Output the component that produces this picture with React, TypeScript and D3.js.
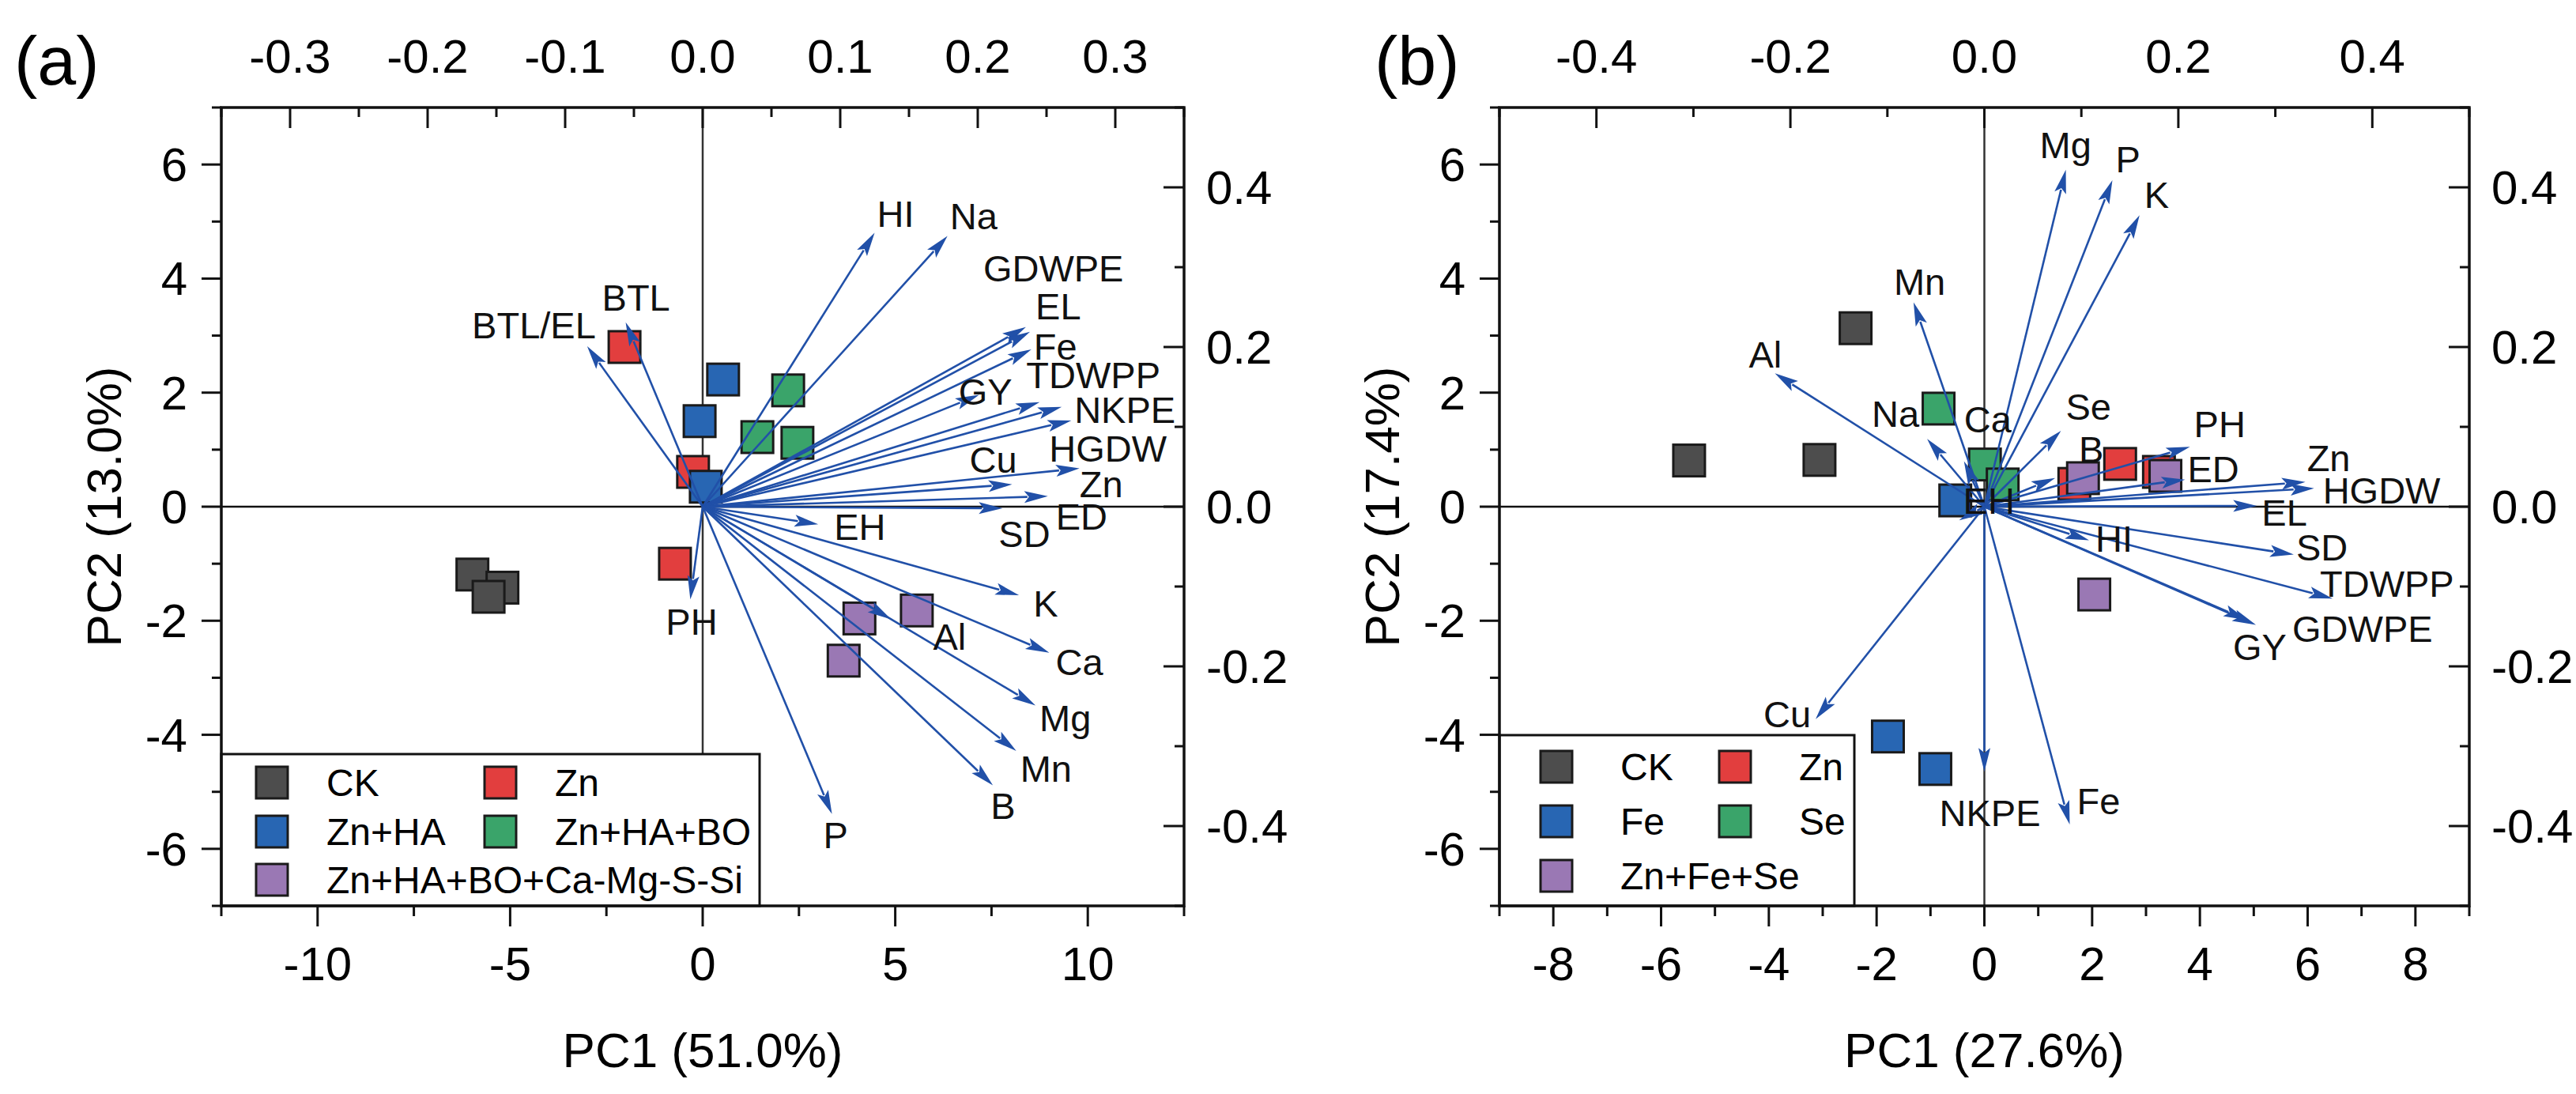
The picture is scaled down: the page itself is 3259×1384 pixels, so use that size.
import React, { useEffect, useRef } from 'react'
import * as d3 from 'd3'

// ---- data ----
const groupsA = ['CK', 'Zn', 'Zn+HA', 'Zn+HA+BO', 'Zn+HA+BO+Ca-Mg-S-Si']
const groupsB = ['CK', 'Zn', 'Fe', 'Se', 'Zn+Fe+Se']
const groupColors = ['#4d4d4d', '#e23e3e', '#2866b3', '#3aa46a', '#9a78b4']

interface Score { group: number; pc1: number; pc2: number }
interface Loading { name: string; x: number; y: number }

const scoresA: Score[] = [
  { group: 0, pc1: -5.98, pc2: -1.19 },
  { group: 0, pc1: -5.2, pc2: -1.42 },
  { group: 0, pc1: -5.56, pc2: -1.58 },
  { group: 1, pc1: -2.03, pc2: 2.8 },
  { group: 1, pc1: -0.25, pc2: 0.61 },
  { group: 1, pc1: -0.72, pc2: -1.0 },
  { group: 2, pc1: 0.53, pc2: 2.23 },
  { group: 2, pc1: -0.08, pc2: 1.5 },
  { group: 2, pc1: 0.08, pc2: 0.35 },
  { group: 3, pc1: 2.22, pc2: 2.04 },
  { group: 3, pc1: 1.42, pc2: 1.22 },
  { group: 3, pc1: 2.46, pc2: 1.12 },
  { group: 4, pc1: 4.07, pc2: -1.96 },
  { group: 4, pc1: 5.56, pc2: -1.82 },
  { group: 4, pc1: 3.66, pc2: -2.7 }
]

const loadingsA: Loading[] = [
  { name: 'HI', x: 0.125, y: 0.343 },
  { name: 'Na', x: 0.178, y: 0.339 },
  { name: 'BTL', x: -0.056, y: 0.231 },
  { name: 'BTL/EL', x: -0.084, y: 0.201 },
  { name: 'GDWPE', x: 0.235, y: 0.225 },
  { name: 'EL', x: 0.238, y: 0.219 },
  { name: 'Fe', x: 0.239, y: 0.197 },
  { name: 'GY', x: 0.201, y: 0.14 },
  { name: 'TDWPP', x: 0.245, y: 0.131 },
  { name: 'NKPE', x: 0.261, y: 0.125 },
  { name: 'HGDW', x: 0.268, y: 0.108 },
  { name: 'Cu', x: 0.225, y: 0.028 },
  { name: 'Zn', x: 0.274, y: 0.048 },
  { name: 'ED', x: 0.251, y: 0.013 },
  { name: 'SD', x: 0.218, y: -0.002 },
  { name: 'EH', x: 0.084, y: -0.022 },
  { name: 'K', x: 0.23, y: -0.111 },
  { name: 'Ca', x: 0.252, y: -0.183 },
  { name: 'Al', x: 0.137, y: -0.141 },
  { name: 'Mg', x: 0.242, y: -0.249 },
  { name: 'Mn', x: 0.228, y: -0.306 },
  { name: 'B', x: 0.211, y: -0.349 },
  { name: 'P', x: 0.094, y: -0.385 },
  { name: 'PH', x: -0.009, y: -0.116 }
]

const scoresB: Score[] = [
  { group: 0, pc1: -5.48, pc2: 0.81 },
  { group: 0, pc1: -3.06, pc2: 0.82 },
  { group: 0, pc1: -2.39, pc2: 3.13 },
  { group: 1, pc1: 2.52, pc2: 0.75 },
  { group: 1, pc1: 3.24, pc2: 0.61 },
  { group: 1, pc1: 1.67, pc2: 0.4 },
  { group: 2, pc1: -1.79, pc2: -4.03 },
  { group: 2, pc1: -0.91, pc2: -4.6 },
  { group: 2, pc1: -0.54, pc2: 0.11 },
  { group: 3, pc1: -0.85, pc2: 1.72 },
  { group: 3, pc1: 0.01, pc2: 0.74 },
  { group: 3, pc1: 0.34, pc2: 0.39 },
  { group: 4, pc1: 1.83, pc2: 0.5 },
  { group: 4, pc1: 3.36, pc2: 0.54 },
  { group: 4, pc1: 2.04, pc2: -1.54 }
]

const loadingsB: Loading[] = [
  { name: 'Mg', x: 0.084, y: 0.422 },
  { name: 'P', x: 0.132, y: 0.409 },
  { name: 'K', x: 0.16, y: 0.365 },
  { name: 'Mn', x: -0.073, y: 0.256 },
  { name: 'Al', x: -0.216, y: 0.167 },
  { name: 'Na', x: -0.059, y: 0.085 },
  { name: 'Ca', x: -0.021, y: 0.057 },
  { name: 'Se', x: 0.079, y: 0.095 },
  { name: 'B', x: 0.073, y: 0.036 },
  { name: 'PH', x: 0.212, y: 0.075 },
  { name: 'ED', x: 0.207, y: 0.034 },
  { name: 'Zn', x: 0.331, y: 0.031 },
  { name: 'HGDW', x: 0.34, y: 0.023 },
  { name: 'EL', x: 0.281, y: 0.001 },
  { name: 'SD', x: 0.319, y: -0.06 },
  { name: 'TDWPP', x: 0.359, y: -0.115 },
  { name: 'GDWPE', x: 0.28, y: -0.148 },
  { name: 'GY', x: 0.271, y: -0.142 },
  { name: 'HI', x: 0.108, y: -0.042 },
  { name: 'EH', x: -0.026, y: -0.017 },
  { name: 'Cu', x: -0.174, y: -0.266 },
  { name: 'NKPE', x: 0.0, y: -0.332 },
  { name: 'Fe', x: 0.088, y: -0.398 }
]

// label nudges (px from arrow tip)
type Nudge = [number, number, ('start' | 'end')?]
const nudgesA: Record<string, Nudge> = {
  HI: [3, -8], Na: [3, -9], BTL: [-30, -15], 'BTL/EL': [11, -10, 'end'],
  GDWPE: [-54, -58], EL: [7, -16], Fe: [3, 13], GY: [-26, 12], TDWPP: [-17, -18],
  NKPE: [16, 20], HGDW: [-28, 52], Cu: [-54, -15], Zn: [0, 36], ED: [10, 42],
  SD: [-5, 49], EH: [20, 20], K: [18, 27], Al: [53, 39], Ca: [8, 28], Mg: [5, 33],
  Mn: [5, 39], B: [-3, 43], P: [-11, 43], PH: [-31, 45]
}
const nudgesB: Record<string, Nudge> = {
  Mg: [-33, -15], P: [4, -10], K: [6, -9], Mn: [-25, -9], Al: [-33, -7],
  Na: [-70, -15], Ca: [0, -36], Se: [6, -14], B: [30, -20], PH: [5, -12],
  ED: [3, 3], Zn: [2, -14], HGDW: [11, 19], EL: [6, 25], SD: [3, 7],
  TDWPP: [-16, -2], GDWPE: [46, 22], GY: [-18, 51], HI: [8, 15], EH: [5, -8],
  Cu: [-66, 10], NKPE: [-57, 69], Fe: [9, -13]
}

const FONT = '"Liberation Sans", Arial, Helvetica, sans-serif'
const ARROW = '#2150a8'

interface PanelProps {
  tag: string
  tagX: number
  left: number
  top: number
  width: number
  height: number
  xMax: number
  xStep: number
  topMax: number
  topStep: number
  xTitle: string
  yTitle: string
  yTitleX: number
  groups: string[]
  scores: Score[]
  loadings: Loading[]
  nudges: Record<string, Nudge>
  legend: { width: number; top: number; rows: number[]; cols: number[]; textGap: number }
}

function Panel(p: PanelProps) {
  const ref = useRef<SVGGElement>(null)

  useEffect(() => {
    if (!ref.current) return
    const svg = d3.select(ref.current)
    svg.selectAll('*').remove()

    const { left, top, width, height } = p
    const x = d3.scaleLinear().domain([-p.xMax, p.xMax]).range([0, width])
    const y = d3.scaleLinear().domain([-7, 7]).range([height, 0])
    const lx = d3.scaleLinear().domain([-p.topMax, p.topMax]).range([0, width])
    const ly = d3.scaleLinear().domain([-0.5, 0.5]).range([height, 0])

    // panel tag and titles
    svg.append('text').attr('x', p.tagX).attr('y', 107)
      .attr('font-size', 88).attr('font-family', FONT).text(p.tag)
    svg.append('text').attr('x', left + width / 2).attr('y', 1350)
      .attr('text-anchor', 'middle').attr('font-size', 62).attr('font-family', FONT)
      .text(p.xTitle)
    svg.append('text')
      .attr('transform', `translate(${p.yTitleX},${top + height / 2}) rotate(-90)`)
      .attr('text-anchor', 'middle').attr('font-size', 62).attr('font-family', FONT)
      .text(p.yTitle)

    const g = svg.append('g').attr('transform', `translate(${left},${top})`)

    // zero lines
    g.append('line').attr('x1', 0).attr('x2', width).attr('y1', y(0)).attr('y2', y(0))
      .attr('stroke', '#111').attr('stroke-width', 2.5)
    g.append('line').attr('x1', x(0)).attr('x2', x(0)).attr('y1', 0).attr('y2', height)
      .attr('stroke', '#333').attr('stroke-width', 2.5)

    // score squares
    const sq = 40
    g.selectAll('rect.score').data(p.scores).join('rect')
      .attr('class', 'score')
      .attr('x', d => x(d.pc1) - sq / 2)
      .attr('y', d => y(d.pc2) - sq / 2)
      .attr('width', sq).attr('height', sq)
      .attr('fill', d => groupColors[d.group])
      .attr('stroke', '#1a1a1a').attr('stroke-width', 3)

    // loading arrows
    const headL = 30
    const headW = 15
    p.loadings.forEach(d => {
      const x0 = lx(0), y0 = ly(0)
      const tx = lx(d.x), ty = ly(d.y)
      const len = Math.hypot(tx - x0, ty - y0)
      if (len < 1) return
      const ux = (tx - x0) / len, uy = (ty - y0) / len
      const bx = tx - ux * headL, by = ty - uy * headL
      g.append('line').attr('x1', x0).attr('y1', y0).attr('x2', bx + ux * 4).attr('y2', by + uy * 4)
        .attr('stroke', ARROW).attr('stroke-width', 2.6)
      const pts = [
        [tx, ty],
        [bx - uy * headW / 2, by + ux * headW / 2],
        [bx + ux * 6, by + uy * 6],
        [bx + uy * headW / 2, by - ux * headW / 2]
      ]
      g.append('polygon').attr('points', pts.map(q => q.join(',')).join(' '))
        .attr('fill', ARROW)
    })

    // loading labels
    p.loadings.forEach(d => {
      const n = p.nudges[d.name] || [4, -6]
      g.append('text')
        .attr('x', lx(d.x) + n[0]).attr('y', ly(d.y) + n[1])
        .attr('text-anchor', n[2] || 'start')
        .attr('font-size', 47).attr('font-family', FONT).attr('fill', '#111')
        .text(d.name)
    })

    // legend
    const lg = p.legend
    g.append('rect').attr('x', 0).attr('y', lg.top).attr('width', lg.width)
      .attr('height', height - lg.top).attr('fill', '#fff')
      .attr('stroke', '#111').attr('stroke-width', 3)
    p.groups.forEach((name, i) => {
      const row = lg.rows[Math.floor(i / 2)]
      const col = lg.cols[i % 2]
      g.append('rect').attr('x', col - 20).attr('y', row - 20).attr('width', 40).attr('height', 40)
        .attr('fill', groupColors[i]).attr('stroke', '#1a1a1a').attr('stroke-width', 3)
      g.append('text').attr('x', col + lg.textGap).attr('y', row + 17)
        .attr('font-size', 48).attr('font-family', FONT).text(name)
    })

    // frame
    g.append('rect').attr('x', 0).attr('y', 0).attr('width', width).attr('height', height)
      .attr('fill', 'none').attr('stroke', '#111').attr('stroke-width', 3.5)

    // ticks
    const tick = (x1: number, y1: number, x2: number, y2: number) =>
      g.append('line').attr('x1', x1).attr('y1', y1).attr('x2', x2).attr('y2', y2)
        .attr('stroke', '#111').attr('stroke-width', 3)
    const label = (tx: number, ty: number, anchor: string, s: string, dy = '0') =>
      g.append('text').attr('x', tx).attr('y', ty).attr('dy', dy)
        .attr('text-anchor', anchor).attr('font-size', 60).attr('font-family', FONT).text(s)

    const nx = Math.round(p.xMax / p.xStep)
    d3.range(-nx, nx + 1).forEach(i => {
      const v = i * p.xStep
      const major = i % 2 === 0
      tick(x(v), height, x(v), height + (major ? 26 : 13))
      if (major) label(x(v), height + 94, 'middle', String(v))
    })
    const nt = Math.round(p.topMax / p.topStep)
    d3.range(-nt, nt + 1).forEach(i => {
      const v = i * p.topStep
      const major = i % 2 === 0
      tick(lx(v), 0, lx(v), major ? 26 : 12)
      if (major) label(lx(v), -44, 'middle', v.toFixed(1))
    })
    d3.range(-7, 8).forEach(i => {
      const major = i % 2 === 0
      tick(0, y(i), major ? -25 : -12, y(i))
      if (major) label(-43, y(i), 'end', String(i), '0.35em')
    })
    d3.range(-5, 6).forEach(i => {
      const v = i * 0.1
      const major = i % 2 === 0
      tick(width, ly(v), width - (major ? 26 : 12), ly(v))
      if (major) label(width + 28, ly(v), 'start', v.toFixed(1), '0.35em')
    })
  }, [p])

  return <g ref={ref} />
}

export default function App() {
  return (
    <svg width={3259} height={1384} style={{ position: 'absolute', left: 0, top: 0, background: '#fff' }}>
      <rect width={3259} height={1384} fill="#fff" />
      <Panel
        tag="(a)" tagX={18}
        left={280} top={136} width={1218} height={1010}
        xMax={12.5} xStep={2.5} topMax={0.35} topStep={0.05}
        xTitle="PC1 (51.0%)" yTitle="PC2 (13.0%)" yTitleX={153}
        groups={groupsA} scores={scoresA} loadings={loadingsA} nudges={nudgesA}
        legend={{ width: 681, top: 818, rows: [854, 916, 977], cols: [64, 353], textGap: 69 }}
      />
      <Panel
        tag="(b)" tagX={1739}
        left={1897} top={136} width={1227} height={1010}
        xMax={9} xStep={1} topMax={0.5} topStep={0.1}
        xTitle="PC1 (27.6%)" yTitle="PC2 (17.4%)" yTitleX={1770}
        groups={groupsB} scores={scoresB} loadings={loadingsB} nudges={nudgesB}
        legend={{ width: 449, top: 794, rows: [834, 903, 972], cols: [72, 298], textGap: 81 }}
      />
    </svg>
  )
}
